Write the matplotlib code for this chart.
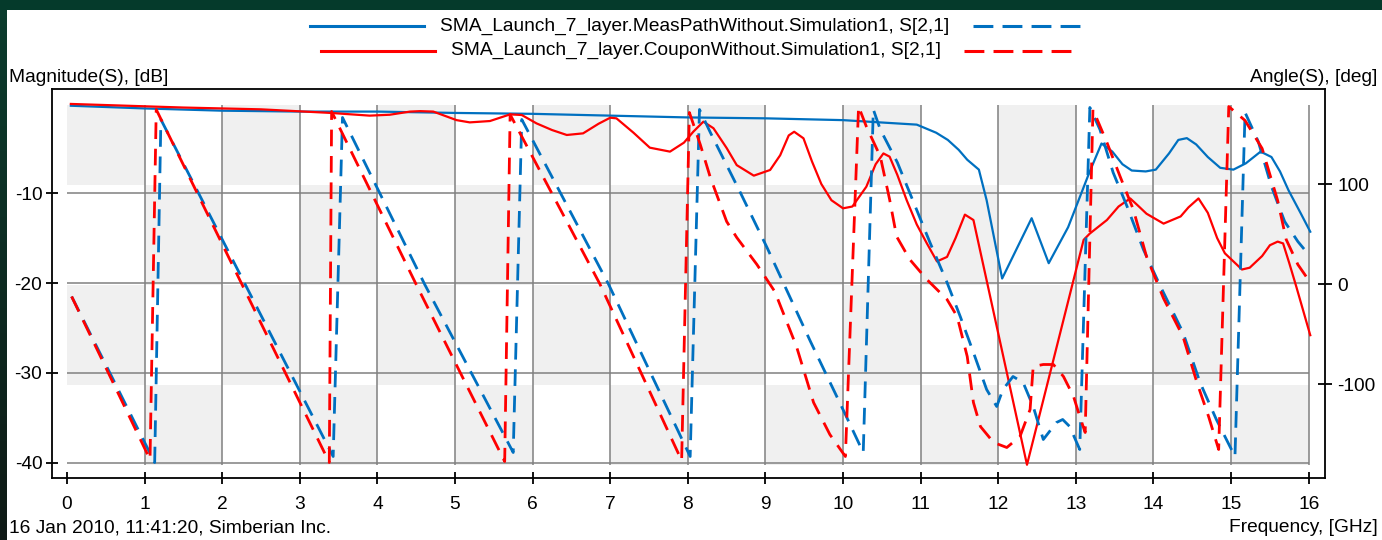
"""S21 magnitude and phase of the SMA launch models (measurement path vs coupon)."""

import matplotlib
matplotlib.use("Agg")
import matplotlib.pyplot as plt
import numpy as np
from matplotlib.lines import Line2D
from matplotlib.patches import Rectangle

plt.rcParams["font.family"] = ["Liberation Sans", "DejaVu Sans"]
plt.rcParams["axes.unicode_minus"] = False

# --- data: |S21| in dB ---
meas_mag_f = [0.05, 1.0, 2.0, 3.0, 4.0, 5.0, 6.0, 7.0, 8.0, 9.0, 10.0, 10.95, 11.2, 11.35, 11.49,
              11.6, 11.75, 11.85, 12.05, 12.43, 12.65, 12.9, 13.17, 13.33, 13.47, 13.6, 13.72, 13.9,
              14.03, 14.2, 14.32, 14.43, 14.55, 14.7, 14.86, 15.03, 15.19, 15.38, 15.52, 15.63,
              15.74, 15.9, 16.02]
meas_mag_db = [-0.3, -0.6, -0.85, -0.95, -0.95, -1.1, -1.2, -1.4, -1.6, -1.7, -1.9, -2.4, -3.3, -4.1, -5.2,
               -6.3, -7.4, -10.8, -19.5, -12.8, -17.8, -13.8, -7.8, -4.5, -5.4, -6.8, -7.5, -7.6,
               -7.4, -5.6, -4.1, -3.9, -4.6, -6.0, -7.2, -7.4, -6.7, -5.4, -6.0, -7.6,
               -9.7, -12.3, -14.3]

coupon_mag_f = [0.05, 1.5, 2.5, 3.4, 3.9, 4.16, 4.42, 4.55, 4.72, 5.02, 5.19, 5.45, 5.71, 5.86, 6.05,
                6.25, 6.44, 6.65, 6.85, 7.0, 7.08, 7.3, 7.51, 7.77, 7.95, 8.07, 8.2, 8.33, 8.5, 8.63,
                8.85, 9.06, 9.19, 9.3, 9.37, 9.49, 9.6, 9.72, 9.85, 10.0, 10.12, 10.3, 10.42, 10.52,
                10.6, 10.7, 10.82, 10.95, 11.08, 11.21, 11.34, 11.45, 11.57, 11.68, 12.37, 13.1,
                13.18, 13.4, 13.55, 13.7, 13.8, 13.91, 14.13, 14.35, 14.45, 14.58, 14.7, 14.82,
                14.92, 15.14, 15.24, 15.4, 15.5, 15.6, 15.67, 15.75, 15.84, 16.02]
coupon_mag_db = [-0.1, -0.5, -0.7, -1.1, -1.4, -1.3, -0.95, -0.9, -0.95, -1.9, -2.15, -2.0, -1.26, -1.33, -2.26,
                 -3.0, -3.55, -3.37, -2.3, -1.63, -1.7, -3.3, -4.96, -5.4, -4.4, -3.19, -2.07, -2.8, -5.0, -6.9,
                 -8.07, -7.44, -5.8, -3.6, -3.19, -3.92, -6.5, -9.0, -10.8, -11.7, -11.5, -9.3, -6.8, -5.6,
                 -5.96, -8.0, -10.8, -13.5, -15.6, -17.6, -17.1, -15.0, -12.4, -13.0, -40.2, -15.2,
                 -14.5, -13.0, -11.5, -10.6, -11.4, -12.3, -13.4, -12.6, -11.6, -10.6, -12.2, -15.0,
                 -16.7, -18.5, -18.3, -17.0, -15.8, -15.4, -15.6, -17.8, -20.4, -25.8]

# --- data: wrapped phase of S21 in degrees ---
meas_ph_f = [0.06, 1.13, 1.21, 3.43, 3.55, 4.61, 5.75, 5.86, 6.98, 8.03, 8.15, 8.29, 8.67, 9.02,
             9.58, 10.03, 10.26, 10.39, 10.48, 10.7, 10.91, 11.12, 11.34, 11.51, 11.68, 11.85,
             11.98, 12.06, 12.19, 12.32, 12.45, 12.58, 12.75, 12.83, 12.92, 13.05, 13.18, 13.31,
             13.48, 13.66, 13.87, 14.09, 14.38, 14.6, 14.81, 15.05, 15.18, 15.35, 15.52, 15.69,
             15.86, 16.02]
meas_ph_deg = [-12, -178, 165, -172, 167, 0, -168, 165, 0, -172, 175, 152, 93, 37,
               -57, -130, -168, 175, 155, 122, 82, 42, 2, -32, -68, -105,
               -122, -105, -92, -98, -122, -155, -138, -135, -142, -165, 177, 155,
               112, 78, 35, -2, -48, -98, -135, -172, 172, 143, 98, 63,
               43, 28]

coupon_ph_f = [0.06, 1.07, 1.15, 3.38, 3.41, 4.5, 5.64, 5.71, 6.87, 7.92, 8.02, 8.16, 8.29, 8.5,
               8.63, 8.89, 9.12, 9.4, 9.62, 9.83, 10.03, 10.2, 10.3, 10.48, 10.6, 10.69, 10.86,
               11.08, 11.34, 11.47, 11.6, 11.68, 11.77, 11.94, 12.11, 12.28, 12.41, 12.45, 12.58,
               12.71, 12.84, 12.97, 13.05, 13.12, 13.22, 13.4, 13.57, 13.74, 13.91, 14.13, 14.38,
               14.56, 14.71, 14.84, 14.97, 15.18, 15.4, 15.6, 15.71, 15.86, 16.02]
coupon_ph_deg = [-12, -175, 175, -178, 173, 0, -177, 170, 0, -176, 172, 140, 107, 63,
                 47, 20, -7, -62, -118, -150, -172, 178, 158, 128, 85, 48, 25,
                 5, -15, -32, -72, -118, -142, -158, -163, -152, -125, -82, -80,
                 -80, -92, -112, -132, -148, 175, 142, 108, 75, 28, -14, -52,
                 -98, -132, -165, 178, 164, 136, 84, 45, 20, 2]

freq_ticks = list(range(0, 17))
mag_ticks = [-10, -20, -30, -40]
ph_ticks = [100, 0, -100]
ph_bands = [(100, 180), (0, 100), (-100, 0), (-180, -100)]

BLUE = "#0070c0"
RED = "#ff0000"
GRID = "#808080"
SHADE = "#f0f0f0"
FS = 13.8

W, H = 1382, 540


def fx(px):
    return px / W


def fy(py):
    return 1 - py / H


fig = plt.figure(figsize=(W / 100, H / 100), dpi=100, facecolor="#053a2b")

# white panel on the dark window background, with a darker left edge
fig.add_artist(Rectangle((fx(6), 0), 1 - fx(6), fy(10), transform=fig.transFigure,
                         facecolor="white", edgecolor="none", zorder=0))
edge = fig.add_axes([0, 0, fx(6), fy(10)])
edge.imshow(np.linspace(0, 1, 64).reshape(-1, 1), aspect="auto",
            cmap=matplotlib.colors.LinearSegmentedColormap.from_list("e", ["#0b3c2d", "#0f1a16"]))
edge.set_axis_off()

rect = [fx(52), fy(478), fx(1325) - fx(52), fy(89) - fy(478)]
xlim = (-0.193, 16.21)

# background: checkerboard bands keyed to the phase axis
ax_bg = fig.add_axes(rect)
ax_bg.set_xlim(*xlim)
ax_bg.set_ylim(-193.5, 195.5)
for col in range(16):
    for row, (lo, hi) in enumerate(ph_bands):
        if (col + row) % 2 == 0:
            ax_bg.add_patch(Rectangle((col, lo), 1, hi - lo, facecolor=SHADE, edgecolor="none"))
ax_bg.vlines(freq_ticks[1:], -180, 180, color=GRID, lw=1.1)
ax_bg.set_axis_off()

# magnitude axis (left)
ax = fig.add_axes(rect)
ax.patch.set_visible(False)
ax.set_xlim(*xlim)
ax.set_ylim(-41.67, 1.56)
ax.hlines(mag_ticks, 0, 16, color=GRID, lw=1.1)
ax.plot(meas_mag_f, meas_mag_db, color=BLUE, lw=1.6)
ax.plot(coupon_mag_f, coupon_mag_db, color=RED, lw=1.6)
ax.set_xticks(freq_ticks)
ax.set_yticks(mag_ticks)
ax.tick_params(axis="both", direction="inout", length=9, width=1.3, labelsize=FS, color="black")
ax.tick_params(axis="x", pad=8.5)
ax.tick_params(axis="y", pad=2.5)
for s in ax.spines.values():
    s.set_linewidth(1.3)

# phase axis (right)
ax2 = ax.twinx()
ax2.set_ylim(-193.5, 195.5)
ax2.plot(meas_ph_f, meas_ph_deg, color=BLUE, lw=2, linestyle=(0, (6, 3.5)))
ax2.plot(coupon_ph_f, coupon_ph_deg, color=RED, lw=2, linestyle=(0, (6, 3.5)))
ax2.set_yticks(ph_ticks)
ax2.tick_params(axis="y", direction="inout", length=10, width=1.3, labelsize=FS, pad=4)
for s in ax2.spines.values():
    s.set_visible(False)

# axis captions
fig.text(fx(9), fy(78), "Magnitude(S), [dB]", fontsize=FS, ha="left", va="center")
fig.text(fx(1377), fy(78), "Angle(S), [deg]", fontsize=FS, ha="right", va="center")
fig.text(fx(9), fy(528), "16 Jan 2010, 11:41:20, Simberian Inc.", fontsize=FS, ha="left", va="center")
fig.text(fx(1378), fy(528), "Frequency, [GHz]", fontsize=FS, ha="right", va="center")

# legend rows: solid sample, name, dashed sample
legend_rows = [
    (BLUE, "SMA_Launch_7_layer.MeasPathWithout.Simulation1, S[2,1]", 26, (310, 424), 440, (973, 1081)),
    (RED, "SMA_Launch_7_layer.CouponWithout.Simulation1, S[2,1]", 50.5, (321, 435), 451, (964, 1072)),
]
for color, name, y, solid_x, text_x, dash_x in legend_rows:
    fig.add_artist(Line2D([fx(solid_x[0]), fx(solid_x[1])], [fy(y), fy(y)],
                          transform=fig.transFigure, color=color, lw=2.2))
    fig.text(fx(text_x), fy(y), name, fontsize=FS, ha="left", va="center")
    fig.add_artist(Line2D([fx(dash_x[0]), fx(dash_x[1])], [fy(y), fy(y)],
                          transform=fig.transFigure, color=color, lw=2.2,
                          linestyle=(0, (6.5, 3))))

fig.savefig("out.png", dpi=100, facecolor=fig.get_facecolor())
